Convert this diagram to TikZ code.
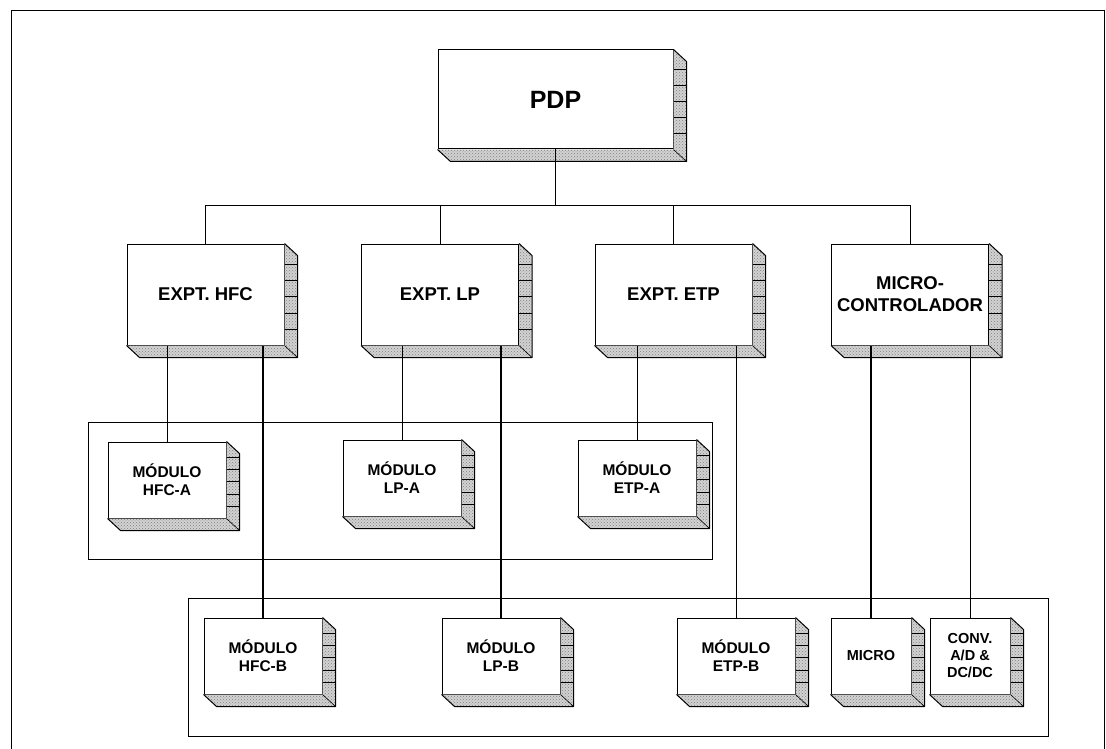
\documentclass[tikz,border=0pt]{standalone}
\usepackage{fontspec}
\setmainfont{Liberation Sans}
\usetikzlibrary{calc,patterns}
\tikzset{
  blk/.style={draw, line width=1pt, fill=white, inner sep=2pt, align=center},
  toplvl/.style={blk, minimum width=235pt, minimum height=99pt, font=\fontsize{25}{29}\selectfont\bfseries},
  midlvl/.style={blk, minimum width=157pt, minimum height=101pt, font=\fontsize{18.5}{22}\selectfont\bfseries},
  modlvl/.style={blk, minimum width=118pt, minimum height=76pt, font=\fontsize{15.5}{18}\selectfont\bfseries},
  smalllvl/.style={modlvl, minimum width=80pt, font=\fontsize{14.5}{17}\selectfont\bfseries},
  sidefill/.style={fill=gray!35},
  sideline/.style={line width=1pt},
  conn/.style={line width=0.7pt},
  connb/.style={line width=1.3pt},
  grp/.style={line width=0.9pt},
}
\newcommand\threed[1]{%
  \fill[sidefill] (#1.north east) -- +(13pt,-12pt) -- ($(#1.south east)+(13pt,-12pt)$) -- ($(#1.south west)+(13pt,-12pt)$) -- (#1.south west) -- (#1.south east) -- cycle;
  \fill[pattern=crosshatch dots, pattern color=gray] (#1.north east) -- +(13pt,-12pt) -- ($(#1.south east)+(13pt,-12pt)$) -- ($(#1.south west)+(13pt,-12pt)$) -- (#1.south west) -- (#1.south east) -- cycle;
  \foreach \t in {0.2,0.36,0.52,0.68,0.84}{
    \draw[line width=0.5pt] ($(#1.north east)!\t!(#1.south east)$) -- +(13pt,0pt);
  }
  \draw[sideline, line join=round] (#1.north east) -- +(13pt,-12pt) -- ($(#1.south east)+(13pt,-12pt)$) -- ($(#1.south west)+(13pt,-12pt)$) -- (#1.south west);
  \draw[line width=0.6pt] (#1.south east) -- +(13pt,-12pt);
}
\begin{document}
\begin{tikzpicture}[x=1pt,y=-1pt]
\useasboundingbox (0,0) rectangle (1106,749);
% outer frame
\draw[grp] (11,749) -- (11,10) -- (1104.5,10) -- (1104.5,749);
% group frames
\draw[grp] (88,422) rectangle (712,559);
\draw[grp] (188,598) rectangle (1048,736);
% nodes
\node[toplvl] (pdp) at (555.5,99.5) {PDP};
\node[midlvl] (hfc) at (205.5,294.5) {EXPT. HFC};
\node[midlvl] (lp) at (440,294.5) {EXPT. LP};
\node[midlvl] (etp) at (673.5,294.5) {EXPT. ETP};
\node[midlvl] (mc) at (910,294.5) {MICRO-\\CONTROLADOR};
\node[modlvl] (hfca) at (167,480) {MÓDULO\\HFC-A};
\node[modlvl] (lpa) at (402,478) {MÓDULO\\LP-A};
\node[modlvl] (etpa) at (637,478) {MÓDULO\\ETP-A};
\node[modlvl] (hfcb) at (263,656) {MÓDULO\\HFC-B};
\node[modlvl] (lpb) at (501,656) {MÓDULO\\LP-B};
\node[modlvl] (etpb) at (736,656) {MÓDULO\\ETP-B};
\node[smalllvl] (micro) at (871,656) {MICRO};
\node[smalllvl] (conv) at (970,656) {CONV.\\A/D \&\\DC/DC};
% 3D sides
\foreach \n in {pdp,hfc,lp,etp,mc,hfca,lpa,etpa,hfcb,lpb,etpb,micro,conv}{
  \threed{\n}
}
% connectors
\coordinate (busL) at (hfc.north |- 0,205);
\coordinate (busR) at (mc.north |- 0,205);
\draw[conn] (pdp.south) -- (pdp.south |- busL);
\draw[conn] (hfc.north) -- (busL) -- (busR) -- (mc.north);
\draw[conn] (lp.north) -- (lp.north |- busL);
\draw[conn] (etp.north) -- (etp.north |- busL);
\draw[conn] (hfca.north) -- (hfca.north |- hfc.south);
\draw[conn] (lpa.north) -- (lpa.north |- lp.south);
\draw[conn] (etpa.north) -- (etpa.north |- etp.south);
\draw[connb] (hfcb.north) -- (hfcb.north |- hfc.south);
\draw[connb] (lpb.north) -- (lpb.north |- lp.south);
\draw[conn] (etpb.north) -- (etpb.north |- etp.south);
\draw[connb] (micro.north) -- (micro.north |- mc.south);
\draw[conn] (conv.north) -- (conv.north |- mc.south);
\end{tikzpicture}
\end{document}
